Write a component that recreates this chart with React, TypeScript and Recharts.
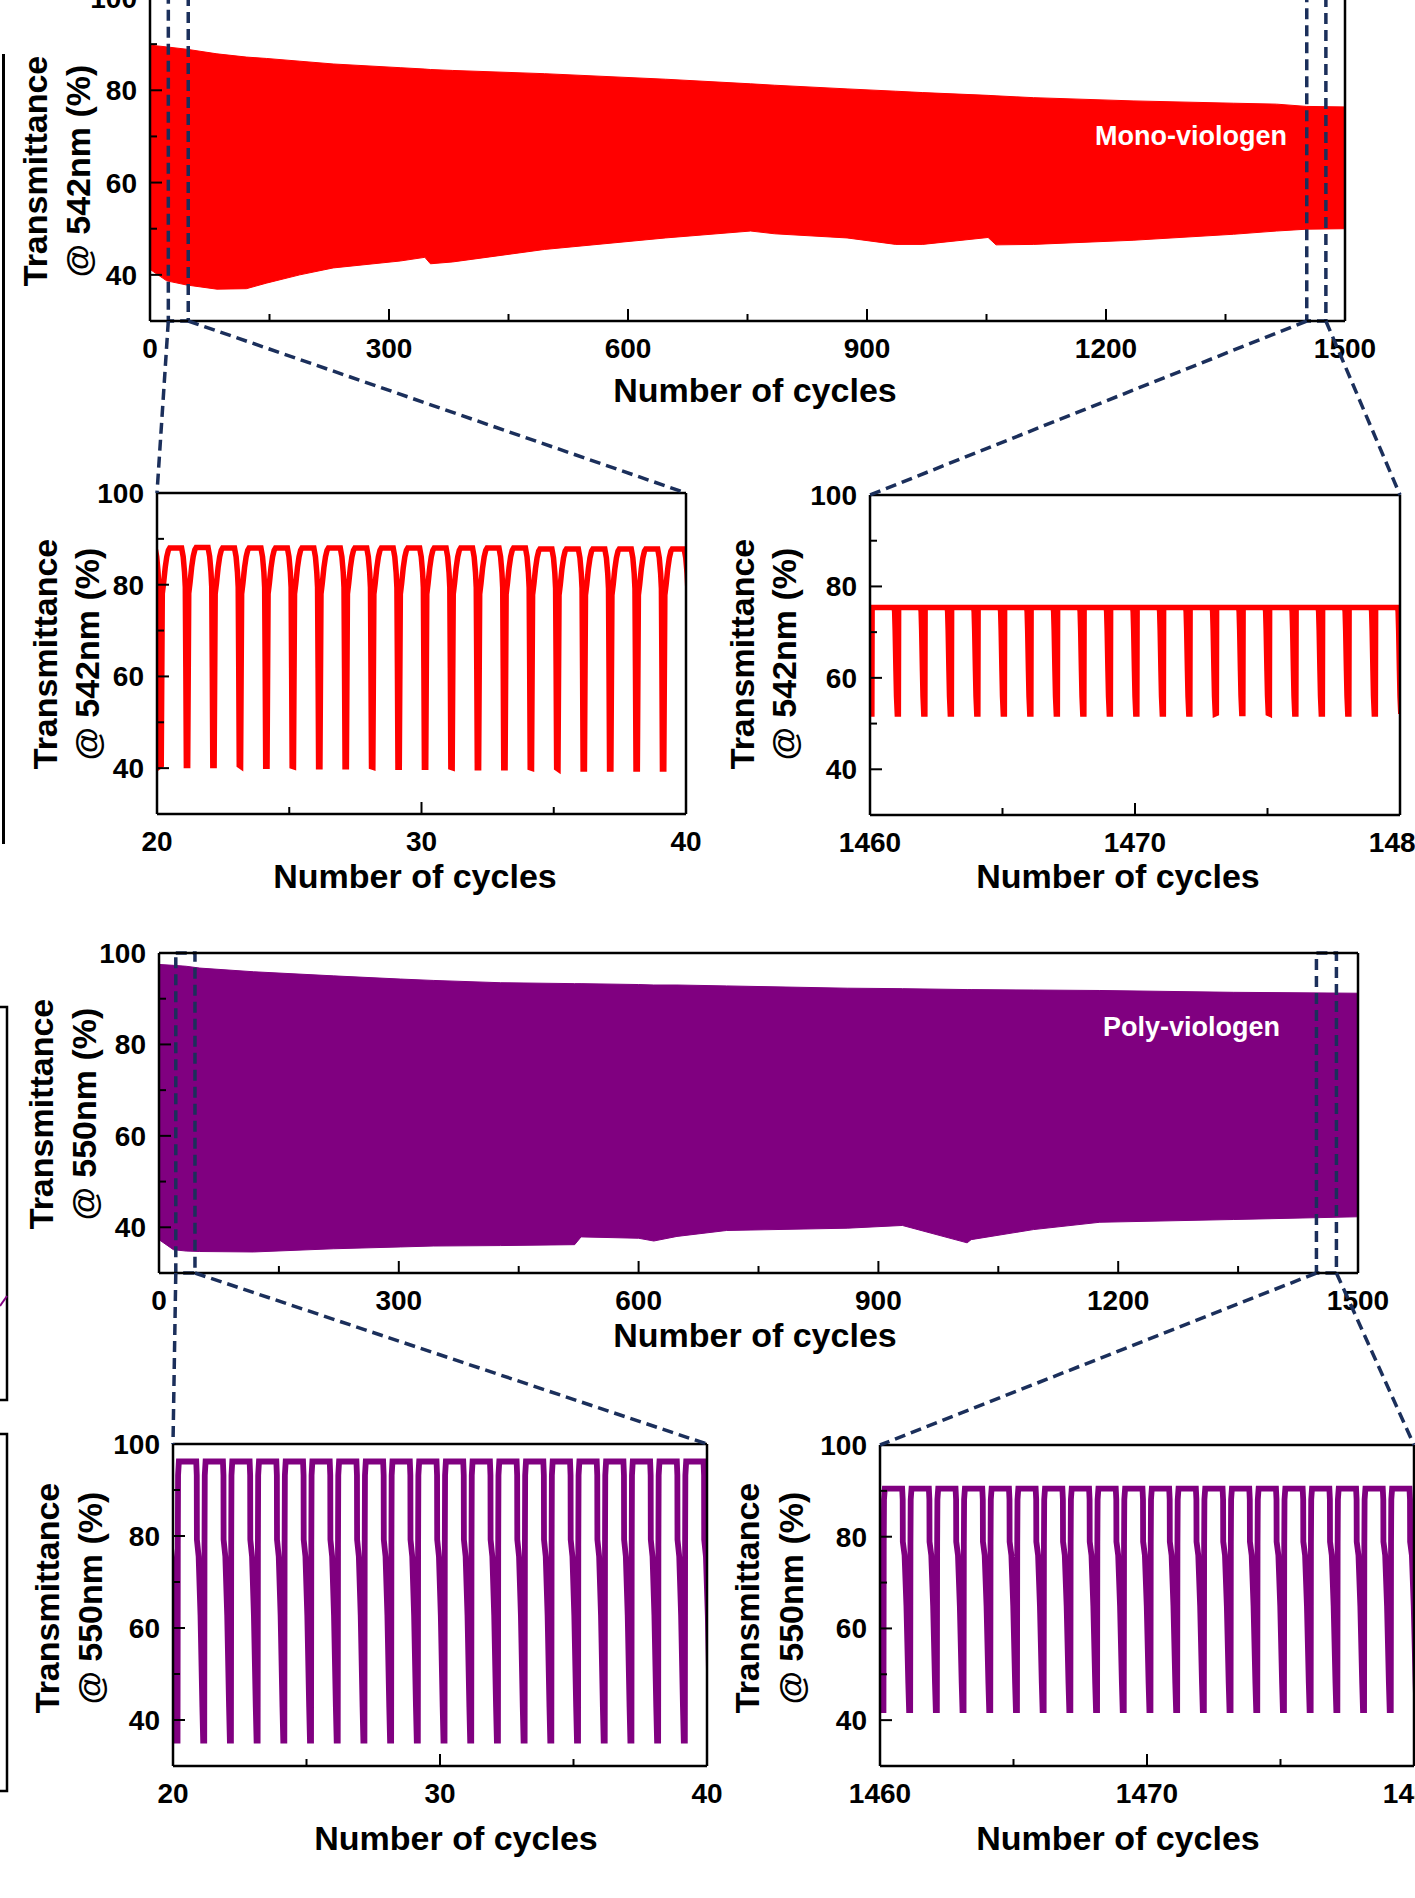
import React from 'react';
import {
  ComposedChart,
  Area,
  Line,
  XAxis,
  YAxis,
  ReferenceArea,
  ReferenceLine,
} from 'recharts';

const FONT = '"Liberation Sans", Arial, Helvetica, sans-serif';
const NAVY = '#1b2f5b';
const MONO_COLOR = '#ff0000';
const POLY_COLOR = '#800080';

// ---------------------------------------------------------------------------
// Long-run stability: upper and lower edge of the switching band
// ---------------------------------------------------------------------------
const monoCycles = [0, 10, 21, 46, 84, 121, 146, 188, 230, 314, 345, 352, 380, 495, 647, 754, 784, 875, 936, 970, 1052, 1062, 1109, 1234, 1360, 1414, 1452, 1500];
const monoUpper = [89.8, 89.6, 89.4, 88.9, 87.9, 87.2, 86.9, 86.3, 85.7, 84.9, 84.6, 84.5, 84.3, 83.6, 82.4, 81.4, 81.1, 80.3, 79.8, 79.5, 78.9, 78.8, 78.4, 77.7, 77.2, 77.0, 76.5, 76.4];
const monoLower = [41.2, 40.0, 38.7, 37.8, 36.9, 37.0, 38.2, 40.0, 41.5, 43.0, 43.8, 42.4, 42.8, 45.5, 48.0, 49.5, 48.9, 48.0, 46.6, 46.6, 48.1, 46.5, 46.6, 47.5, 48.8, 49.5, 49.9, 50.0];

const polyCycles = [0, 18, 34, 51, 118, 218, 302, 343, 427, 520, 528, 600, 619, 648, 710, 861, 930, 1011, 1016, 1094, 1177, 1344, 1500];
const polyUpper = [97.5, 97.3, 97.1, 96.7, 95.9, 95.0, 94.3, 94.0, 93.5, 93.3, 93.3, 93.1, 93.0, 93.0, 92.8, 92.3, 92.2, 92.0, 92.0, 91.9, 91.8, 91.4, 91.2];
const polyLower = [37.3, 35.1, 34.8, 34.7, 34.6, 35.3, 35.7, 35.9, 36.0, 36.2, 37.9, 37.6, 37.0, 38.0, 39.3, 39.8, 40.4, 36.6, 37.3, 39.5, 41.1, 41.7, 42.3];

// ---------------------------------------------------------------------------
// Close-up traces: one entry per switching cycle (bleached peak / coloured trough)
// ---------------------------------------------------------------------------
const monoEarlyFirstCycle = 19.16;
const monoEarlyPeaks = [88.0, 88.0, 88.1, 88.0, 88.0, 88.0, 88.0, 88.0, 88.0, 88.0, 88.0, 88.0, 88.0, 88.0, 88.0, 87.8, 87.8, 87.8, 87.8, 87.8, 87.8];
const monoEarlyTroughs = [40.4, 40.6, 40.6, 40.6, 40.4, 40.4, 40.3, 40.3, 40.3, 40.2, 40.2, 40.2, 40.1, 40.1, 40.1, 40.0, 39.8, 39.8, 39.8, 39.8, 39.8];

const monoLateFirstCycle = 1459.07;
const monoLatePeaks = [75.4, 75.4, 75.4, 75.4, 75.4, 75.4, 75.4, 75.4, 75.4, 75.4, 75.4, 75.4, 75.4, 75.4, 75.4, 75.4, 75.4, 75.4, 75.4, 75.4, 75.4];
const monoLateTroughs = [52.1, 52.1, 52.1, 52.1, 52.1, 52.1, 52.1, 52.1, 52.1, 52.1, 52.1, 52.1, 52.1, 52.1, 52.2, 52.2, 52.1, 52.1, 52.1, 52.1, 52.1];

const polyEarlyFirstCycle = 19.17;
const polyEarlyPeaks = [96.2, 96.2, 96.2, 96.2, 96.2, 96.2, 96.2, 96.2, 96.2, 96.2, 96.2, 96.2, 96.2, 96.2, 96.2, 96.2, 96.2, 96.2, 96.2, 96.2, 96.2];
const polyEarlyTroughs = [35.5, 35.5, 35.5, 35.5, 35.5, 35.5, 35.5, 35.5, 35.5, 35.5, 35.5, 35.5, 35.5, 35.5, 35.5, 35.5, 35.5, 35.5, 35.5, 35.5, 35.5];

const polyLateFirstCycle = 1459.13;
const polyLatePeaks = [90.5, 90.5, 90.5, 90.5, 90.5, 90.5, 90.5, 90.5, 90.5, 90.5, 90.5, 90.5, 90.5, 90.5, 90.5, 90.5, 90.5, 90.5, 90.5, 90.5, 90.5];
const polyLateTroughs = [42.2, 42.2, 42.2, 42.2, 42.2, 42.2, 42.2, 42.2, 42.2, 42.2, 42.2, 42.2, 42.2, 42.2, 42.2, 42.2, 42.2, 42.2, 42.2, 42.2, 42.2];

// Profile of a single cycle: [phase within cycle, fraction between trough and peak]
const monoEarlyShape: [number, number][] = [
  [0.0, 0.0], [0.02, 0.4], [0.04, 0.79], [0.09, 0.84], [0.15, 0.91], [0.21, 0.96],
  [0.27, 0.99], [0.32, 1.0], [0.77, 1.0], [0.83, 0.96], [0.88, 0.89], [0.91, 0.82],
  [0.93, 0.45], [0.95, 0.0],
];
const monoLateShape: [number, number][] = [
  [0.0, 0.0], [0.01, 1.0], [0.84, 1.0], [0.86, 0.96], [0.88, 0.78], [0.91, 0.4],
  [0.93, 0.17], [0.96, 0.0],
];
const polyEarlyShape: [number, number][] = [
  [0.0, 0.0], [0.01, 0.7], [0.02, 0.95], [0.05, 1.0], [0.7, 1.0], [0.72, 0.95],
  [0.725, 0.72], [0.79, 0.66], [0.86, 0.45], [0.93, 0.12], [0.96, 0.0],
];
const polyLateShape: [number, number][] = [
  [0.0, 0.0], [0.01, 0.75], [0.02, 0.95], [0.05, 1.0], [0.7, 1.0], [0.72, 0.95],
  [0.725, 0.76], [0.79, 0.7], [0.86, 0.47], [0.93, 0.12], [0.96, 0.0],
];

// Axis ticks
const longTicks = [0, 150, 300, 450, 600, 750, 900, 1050, 1200, 1350, 1500];
const longLabels = [0, 300, 600, 900, 1200, 1500];
const earlyTicks = [20, 25, 30, 35, 40];
const earlyLabels = [20, 30, 40];
const lateTicks = [1460, 1465, 1470, 1475, 1480];
const lateLabels = [1460, 1470, 1480];
const yTicks = [40, 50, 60, 70, 80, 90, 100];
const yLabels = [40, 60, 80, 100];

// Cycle windows outlined on the long-run plots
const monoZoomBoxes: [number, number][] = [[23, 48], [1452, 1476]];
const polyZoomBoxes: [number, number][] = [[21, 45], [1448, 1473]];

// ---------------------------------------------------------------------------
type Box = { left: number; top: number; width: number; height: number };
const boxA: Box = { left: 150, top: -2, width: 1195, height: 323 };
const boxB: Box = { left: 157, top: 493, width: 529, height: 321 };
const boxC: Box = { left: 870, top: 495, width: 530, height: 320 };
const boxD: Box = { left: 159, top: 953, width: 1199, height: 320 };
const boxE: Box = { left: 173, top: 1444, width: 534, height: 322 };
const boxF: Box = { left: 880, top: 1445, width: 534, height: 321 };

const ML = 90;
const MR = 70;
const MT = 36;
const MB = 64;

const toBand = (cycles: number[], lower: number[], upper: number[]) =>
  cycles.map((c, i) => ({ x: c, band: [lower[i], upper[i]] }));

const buildTrace = (first: number, peaks: number[], troughs: number[], shape: [number, number][]) => {
  const pts: { x: number; y: number }[] = [];
  peaks.forEach((hi, i) => {
    const lo = troughs[i];
    shape.forEach(([u, f]) => pts.push({ x: first + i + u, y: lo + f * (hi - lo) }));
  });
  return pts;
};

const monoBand = toBand(monoCycles, monoLower, monoUpper);
const polyBand = toBand(polyCycles, polyLower, polyUpper);
const monoEarly = buildTrace(monoEarlyFirstCycle, monoEarlyPeaks, monoEarlyTroughs, monoEarlyShape);
const monoLate = buildTrace(monoLateFirstCycle, monoLatePeaks, monoLateTroughs, monoLateShape);
const polyEarly = buildTrace(polyEarlyFirstCycle, polyEarlyPeaks, polyEarlyTroughs, polyEarlyShape);
const polyLate = buildTrace(polyLateFirstCycle, polyLatePeaks, polyLateTroughs, polyLateShape);

const labelStyle = { fontFamily: FONT, fontWeight: 'bold' as const, fontSize: 28, fill: '#000' };

const renderXTick = (labels: number[]) => (props: any) => {
  const { x, y, payload } = props;
  const major = labels.includes(payload.value);
  return (
    <g>
      <line x1={x} x2={x} y1={y} y2={y - (major ? 12 : 7)} stroke="#000" strokeWidth={2} />
      {major ? (
        <text x={x} y={y + 37} textAnchor="middle" {...labelStyle}>
          {payload.value}
        </text>
      ) : null}
    </g>
  );
};

const renderYTick = (props: any) => {
  const { x, y, payload } = props;
  const major = yLabels.includes(payload.value);
  return (
    <g>
      <line x1={x} x2={x + (major ? 12 : 7)} y1={y} y2={y} stroke="#000" strokeWidth={2} />
      {major ? (
        <text x={x - 13} y={y + 10} textAnchor="end" {...labelStyle}>
          {payload.value}
        </text>
      ) : null}
    </g>
  );
};

type PanelProps = {
  box: Box;
  data: any[];
  xDomain: [number, number];
  xTicks: number[];
  xLabels: number[];
  children: React.ReactNode;
};

function Panel({ box, data, xDomain, xTicks, xLabels, children }: PanelProps) {
  return (
    <div style={{ position: 'absolute', left: box.left - ML, top: box.top - MT }}>
      <ComposedChart
        width={box.width + ML + MR}
        height={box.height + MT + MB}
        data={data}
        margin={{ top: MT, right: MR, bottom: 0, left: 0 }}
      >
        <XAxis
          type="number"
          dataKey="x"
          domain={xDomain}
          ticks={xTicks}
          interval={0}
          allowDataOverflow
          height={MB}
          tickSize={0}
          tickMargin={0}
          tickLine={false}
          axisLine={{ stroke: '#000', strokeWidth: 2.5 }}
          tick={renderXTick(xLabels)}
        />
        <YAxis
          type="number"
          domain={[30, 100]}
          ticks={yTicks}
          interval={0}
          allowDataOverflow
          width={ML}
          tickSize={0}
          tickMargin={0}
          tickLine={false}
          axisLine={{ stroke: '#000', strokeWidth: 2.5 }}
          tick={renderYTick}
        />
        {children}
        <ReferenceLine y={100} stroke="#000" strokeWidth={2.5} />
        <ReferenceLine x={xDomain[1]} stroke="#000" strokeWidth={2.5} />
      </ComposedChart>
    </div>
  );
}

const xPx = (box: Box, domain: [number, number], v: number) =>
  box.left + ((v - domain[0]) / (domain[1] - domain[0])) * box.width;

function zoomLinks(main: Box, boxes: [number, number][], early: Box, late: Box) {
  const bottom = main.top + main.height;
  const d: [number, number] = [0, 1500];
  return [
    [xPx(main, d, boxes[0][0]), bottom, early.left, early.top],
    [xPx(main, d, boxes[0][1]), bottom, early.left + early.width, early.top],
    [xPx(main, d, boxes[1][0]), bottom, late.left, late.top],
    [xPx(main, d, boxes[1][1]), bottom, late.left + late.width, late.top],
  ];
}

const titleStyle = { fontFamily: FONT, fontWeight: 'bold' as const, fontSize: 34, fill: '#000' };

function YTitle({ x1, x2, cy, nm }: { x1: number; x2: number; cy: number; nm: string }) {
  return (
    <g>
      <text x={x1} y={cy} textAnchor="middle" transform={`rotate(-90 ${x1} ${cy})`} {...titleStyle}>
        Transmittance
      </text>
      <text x={x2} y={cy} textAnchor="middle" transform={`rotate(-90 ${x2} ${cy})`} {...titleStyle}>
        {`@ ${nm}nm (%)`}
      </text>
    </g>
  );
}

function XTitle({ cx, y }: { cx: number; y: number }) {
  return (
    <text x={cx} y={y} textAnchor="middle" {...titleStyle}>
      Number of cycles
    </text>
  );
}

function Overlay() {
  const links = [
    ...zoomLinks(boxA, monoZoomBoxes, boxB, boxC),
    ...zoomLinks(boxD, polyZoomBoxes, boxE, boxF),
  ];
  return (
    <svg width={1415} height={1898} style={{ position: 'absolute', left: 0, top: 0, pointerEvents: 'none' }}>
      {/* edges of neighbouring panels */}
      <line x1={3.5} x2={3.5} y1={54} y2={844} stroke="#000" strokeWidth={3} />
      <polyline points="0,1007 7,1007 7,1400 0,1400" fill="none" stroke="#000" strokeWidth={2.5} />
      <line x1={0} y1={1306} x2={7} y2={1296} stroke={POLY_COLOR} strokeWidth={2} />
      <polyline points="0,1434 7,1434 7,1791 0,1791" fill="none" stroke="#000" strokeWidth={2.5} />

      {links.map(([xa, ya, xb, yb], i) => (
        <line key={i} x1={xa} y1={ya} x2={xb} y2={yb} stroke={NAVY} strokeWidth={3.5} strokeDasharray="11 6" />
      ))}

      <YTitle x1={47} x2={90} cy={171} nm="542" />
      <YTitle x1={57} x2={99} cy={654} nm="542" />
      <YTitle x1={754} x2={796} cy={654} nm="542" />
      <YTitle x1={53} x2={96} cy={1114} nm="550" />
      <YTitle x1={59} x2={102} cy={1598} nm="550" />
      <YTitle x1={759} x2={803} cy={1598} nm="550" />

      <XTitle cx={755} y={402} />
      <XTitle cx={415} y={888} />
      <XTitle cx={1118} y={888} />
      <XTitle cx={755} y={1347} />
      <XTitle cx={456} y={1850} />
      <XTitle cx={1118} y={1850} />

      <text x={1095} y={145} fontFamily={FONT} fontWeight="bold" fontSize={27} fill="#fff">
        Mono-viologen
      </text>
      <text x={1103} y={1036} fontFamily={FONT} fontWeight="bold" fontSize={27} fill="#fff">
        Poly-viologen
      </text>
    </svg>
  );
}

const zoomBox = (range: [number, number], key: string) => (
  <ReferenceArea
    key={key}
    x1={range[0]}
    x2={range[1]}
    y1={30}
    y2={100}
    ifOverflow="visible"
    fill="none"
    stroke={NAVY}
    strokeWidth={3.5}
    strokeDasharray="11 6"
  />
);

export default function App() {
  return (
    <div
      style={{
        position: 'absolute',
        left: 0,
        top: 0,
        width: 1415,
        height: 1898,
        overflow: 'hidden',
        background: '#fff',
        fontFamily: FONT,
      }}
    >
      <Panel box={boxA} data={monoBand} xDomain={[0, 1500]} xTicks={longTicks} xLabels={longLabels}>
        <Area dataKey="band" type="linear" fill={MONO_COLOR} fillOpacity={1} stroke={MONO_COLOR} strokeWidth={1} isAnimationActive={false} />
        {zoomBox(monoZoomBoxes[0], 'm0')}
        {zoomBox(monoZoomBoxes[1], 'm1')}
      </Panel>
      <Panel box={boxB} data={monoEarly} xDomain={[20, 40]} xTicks={earlyTicks} xLabels={earlyLabels}>
        <Line dataKey="y" type="linear" stroke={MONO_COLOR} strokeWidth={5.5} strokeMiterlimit={3} dot={false} activeDot={false} isAnimationActive={false} />
      </Panel>
      <Panel box={boxC} data={monoLate} xDomain={[1460, 1480]} xTicks={lateTicks} xLabels={lateLabels}>
        <Line dataKey="y" type="linear" stroke={MONO_COLOR} strokeWidth={5.5} strokeMiterlimit={3} dot={false} activeDot={false} isAnimationActive={false} />
      </Panel>
      <Panel box={boxD} data={polyBand} xDomain={[0, 1500]} xTicks={longTicks} xLabels={longLabels}>
        <Area dataKey="band" type="linear" fill={POLY_COLOR} fillOpacity={1} stroke={POLY_COLOR} strokeWidth={1} isAnimationActive={false} />
        {zoomBox(polyZoomBoxes[0], 'p0')}
        {zoomBox(polyZoomBoxes[1], 'p1')}
      </Panel>
      <Panel box={boxE} data={polyEarly} xDomain={[20, 40]} xTicks={earlyTicks} xLabels={earlyLabels}>
        <Line dataKey="y" type="linear" stroke={POLY_COLOR} strokeWidth={5.8} strokeMiterlimit={3} dot={false} activeDot={false} isAnimationActive={false} />
      </Panel>
      <Panel box={boxF} data={polyLate} xDomain={[1460, 1480]} xTicks={lateTicks} xLabels={lateLabels}>
        <Line dataKey="y" type="linear" stroke={POLY_COLOR} strokeWidth={5.8} strokeMiterlimit={3} dot={false} activeDot={false} isAnimationActive={false} />
      </Panel>
      <Overlay />
    </div>
  );
}
